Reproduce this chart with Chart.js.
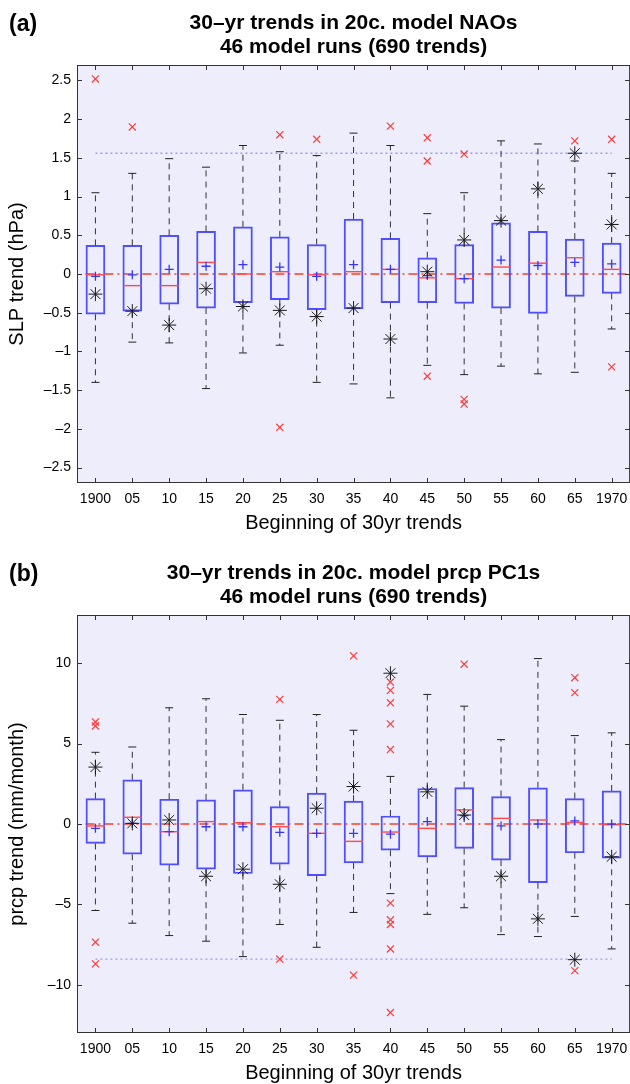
<!DOCTYPE html>
<html>
<head>
<meta charset="utf-8">
<script src="https://cdn.jsdelivr.net/npm/chart.js@4.4.0/dist/chart.umd.min.js"></script>
<style>
  body { margin: 0; background: #fff; width: 630px; height: 1084px; position: relative; overflow: hidden;
         font-family: "Liberation Sans", Arial, sans-serif; }
  .panel { position: absolute; left: 0; width: 641px; height: 534px; }
  .tag { position: absolute; left: 9px; font-weight: bold; font-size: 23px; line-height: 1; }
</style>
</head>
<body>
<div class="panel" style="top:0"><canvas id="naoChart" width="641" height="534"></canvas></div>
<div class="tag" style="top:12px">(a)</div>
<div class="panel" style="top:550px"><canvas id="prcpChart" width="641" height="534"></canvas></div>
<div class="tag" style="top:562px">(b)</div>
<script>
// start years of the 30-yr trends
const years = ['1900','05','10','15','20','25','30','35','40','45','50','55','60','65','1970'];

// ====== (a) NAO trends (hPa) ======
const naoQ1   = [-0.52,-0.48,-0.39,-0.44,-0.37,-0.33,-0.46,-0.45,-0.37,-0.37,-0.38,-0.44,-0.51,-0.29,-0.25];
const naoQ3   = [0.37,0.37,0.50,0.55,0.61,0.48,0.38,0.71,0.46,0.21,0.38,0.66,0.55,0.45,0.40];
const naoMed  = [-0.01,-0.15,-0.15,0.15,0.00,0.03,-0.01,0.03,0.06,-0.05,-0.06,0.09,0.14,0.21,0.06];
const naoMean = [-0.03,-0.01,0.06,0.10,0.12,0.09,-0.03,0.12,0.06,-0.02,-0.06,0.18,0.11,0.15,0.13];
const naoLo   = [-1.40,-0.88,-0.89,-1.48,-1.02,-0.92,-1.40,-1.42,-1.60,-1.18,-1.30,-1.19,-1.29,-1.27,-0.71];
const naoHi   = [1.05,1.30,1.49,1.38,1.66,1.58,1.53,1.82,1.66,0.78,1.05,1.72,1.68,1.46,1.30];
const naoObs  = [-0.26,-0.48,-0.66,-0.19,-0.42,-0.47,-0.55,-0.44,-0.84,0.03,0.44,0.69,1.10,1.56,0.64];
const naoOut  = [[2.52],[1.90],[],[],[],[1.80,-1.98],[1.74],[],[1.91],[1.76,1.46,-1.32],[1.55,-1.62,-1.68],[],[],[1.72],[1.74,-1.20]];
const naoRef  = 1.56;

// ====== (b) precip PC1 trends (mm/month) ======
const prQ1   = [-1.21,-1.88,-2.56,-2.81,-3.08,-2.50,-3.21,-2.42,-1.63,-2.04,-1.52,-2.25,-3.65,-1.79,-2.13];
const prQ3   = [1.58,2.75,1.54,1.50,2.13,1.08,1.92,1.42,0.50,2.21,2.27,1.71,2.25,1.58,2.06];
const prMed  = [-0.12,0.42,-0.48,0.15,0.08,-0.17,-0.58,-1.08,-0.50,-0.27,0.88,0.35,0.25,0.10,-0.04];
const prMean = [-0.27,0.04,-0.48,-0.17,-0.17,-0.52,-0.58,-0.58,-0.63,0.15,0.52,-0.12,0.00,0.19,0.00];
const prLo   = [-5.38,-6.17,-6.94,-7.29,-8.25,-6.25,-7.67,-5.50,-4.33,-5.62,-5.21,-6.88,-7.00,-5.75,-7.77];
const prHi   = [4.46,4.79,7.23,7.79,6.81,6.45,6.81,5.83,2.96,8.06,7.33,5.25,10.29,5.50,5.67];
const prObs  = [3.54,0.04,0.25,-3.25,-2.81,-3.75,0.98,2.33,9.38,2.00,0.56,-3.25,-5.90,-8.44,-2.04];
const prOut  = [[6.35,6.10,-7.35,-8.70],[],[],[],[],[7.75,-8.40],[],[10.46,-9.40],
                [8.83,8.31,7.54,6.23,4.63,-4.92,-5.96,-6.25,-7.77,-11.73],[],[9.94],[],[],[9.10,8.17,-9.12],[]];
const prRef  = -8.4;

const FONT = '"Liberation Sans", Arial, Helvetica, sans-serif';
Chart.defaults.font.family = FONT;
Chart.defaults.color = '#000';

// lavender plot area, zero line, box frame and inward ticks (matlab look)
const axesFrame = {
    id: 'axesFrame',
    beforeDatasetsDraw(chart) {
        const { ctx, chartArea: a, scales: { x, y } } = chart;
        ctx.save();
        ctx.fillStyle = '#ededfb';
        ctx.fillRect(a.left, a.top, a.width, a.height);
        const y0 = Math.round(y.getPixelForValue(0));
        ctx.strokeStyle = '#f46b5c';
        ctx.lineWidth = 2;
        ctx.setLineDash([9, 4, 2, 4]);
        ctx.beginPath();
        ctx.moveTo(x.getPixelForValue(0) - 10, y0);
        ctx.lineTo(a.right, y0);
        ctx.stroke();
        ctx.restore();
    },
    afterDraw(chart) {
        const { ctx, chartArea: a, scales: { x, y } } = chart;
        ctx.save();
        ctx.strokeStyle = '#333';
        ctx.lineWidth = 1;
        ctx.strokeRect(a.left + 0.5, a.top + 0.5, a.width - 1, a.height - 1);
        ctx.beginPath();
        x.ticks.forEach((t, i) => {
            const px = Math.round(x.getPixelForTick(i)) + 0.5;
            ctx.moveTo(px, a.bottom); ctx.lineTo(px, a.bottom - 5);
            ctx.moveTo(px, a.top); ctx.lineTo(px, a.top + 5);
        });
        y.ticks.forEach((t, i) => {
            const py = Math.round(y.getPixelForTick(i)) + 0.5;
            ctx.moveTo(a.left, py); ctx.lineTo(a.left + 5, py);
            ctx.moveTo(a.right, py); ctx.lineTo(a.right - 5, py);
        });
        ctx.stroke();
        ctx.restore();
    }
};

function boxDatasets(q1, q3, med, mean, lo, hi, obs, out, ref) {
    const pts = arr => years.map((c, i) => ({ x: c, y: arr[i] }));
    const whiskers = [];
    const caps = [];
    years.forEach((c, i) => {
        whiskers.push({ x: c, y: q3[i] }, { x: c, y: hi[i] }, { x: c, y: null },
                      { x: c, y: q1[i] }, { x: c, y: lo[i] }, { x: c, y: null });
        caps.push({ x: c, y: hi[i] }, { x: c, y: lo[i] });
    });
    const outliers = [];
    out.forEach((vals, i) => vals.forEach(v => outliers.push({ x: years[i], y: v })));

    return [
        { type: 'line', data: pts(obs), showLine: false, pointStyle: 'star', pointRadius: 7,
          borderColor: '#1a1a1a', borderWidth: 1, order: 1 },
        { type: 'line', data: pts(mean), showLine: false, pointStyle: 'cross', pointRadius: 4.5,
          borderColor: '#3535ff', borderWidth: 1.3, order: 2 },
        { type: 'line', data: outliers, showLine: false, pointStyle: 'crossRot', pointRadius: 5,
          borderColor: '#ff3a3a', borderWidth: 1.2, order: 3 },
        { type: 'line', data: pts(med), showLine: false, pointStyle: 'line', pointRadius: 9.5,
          borderColor: '#ff4a4a', borderWidth: 1.4, order: 4 },
        { type: 'line', data: caps, showLine: false, pointStyle: 'line', pointRadius: 4,
          borderColor: '#222', borderWidth: 1, order: 5 },
        { type: 'line', data: whiskers, spanGaps: false, pointRadius: 0, borderColor: '#333',
          borderWidth: 1, borderDash: [6, 5], order: 6 },
        { type: 'line', data: [{ x: years[0], y: ref }, { x: years[years.length - 1], y: ref }],
          pointRadius: 0, borderColor: '#9a9ae8', borderWidth: 1.3, borderDash: [2, 3], order: 7 },
        { type: 'bar', data: years.map((c, i) => [q1[i], q3[i]]), backgroundColor: 'rgba(0,0,0,0)',
          borderColor: '#4f4fff', borderWidth: 1.3, borderSkipped: false, barThickness: 19, order: 8 }
    ];
}

const fmtTick = v => {
    const s = String(+v.toFixed(2));
    return s.startsWith('-') ? '\u2013' + s.slice(1) : s;
};

function makeChart(id, sets, titleLines, yTitle, yMin, yMax, yStep) {
    return new Chart(document.getElementById(id).getContext('2d'), {
        type: 'bar',
        data: { labels: years, datasets: sets },
        options: {
            responsive: false,
            animation: false,
            devicePixelRatio: 1,
            layout: { padding: { left: 0, right: 1, top: 0, bottom: 0 } },
            plugins: {
                legend: { display: false },
                tooltip: { enabled: false },
                title: {
                    display: true, fullSize: false, text: titleLines, color: '#000',
                    font: { size: 21, weight: 'bold', lineHeight: 1.143 },
                    padding: { top: 11, bottom: 6 }
                }
            },
            scales: {
                x: {
                    offset: true,
                    grid: { display: false, drawTicks: false },
                    border: { display: false },
                    ticks: { font: { size: 14 }, padding: 8, maxRotation: 0, autoSkip: false },
                    title: { display: true, text: 'Beginning of 30yr trends', font: { size: 20, lineHeight: 1.1 },
                             padding: { top: 0, bottom: 0 } },
                    afterFit: s => { s.height = 51; }
                },
                y: {
                    min: yMin, max: yMax,
                    grid: { display: false, drawTicks: false },
                    border: { display: false },
                    ticks: { stepSize: yStep, includeBounds: false, font: { size: 14 }, padding: 6, callback: fmtTick },
                    title: { display: true, text: yTitle, font: { size: 20, lineHeight: 1.1 }, padding: { top: 6 } },
                    afterFit: s => { s.width = 77; }
                }
            }
        },
        plugins: [axesFrame]
    });
}

makeChart('naoChart',
    boxDatasets(naoQ1, naoQ3, naoMed, naoMean, naoLo, naoHi, naoObs, naoOut, naoRef),
    ['30\u2013yr trends in 20c. model NAOs', '46 model runs (690 trends)'],
    'SLP trend (hPa)', -2.7, 2.7, 0.5);

makeChart('prcpChart',
    boxDatasets(prQ1, prQ3, prMed, prMean, prLo, prHi, prObs, prOut, prRef),
    ['30\u2013yr trends in 20c. model prcp PC1s', '46 model runs (690 trends)'],
    'prcp trend (mm/month)', -13, 13, 5);
</script>
</body>
</html>
